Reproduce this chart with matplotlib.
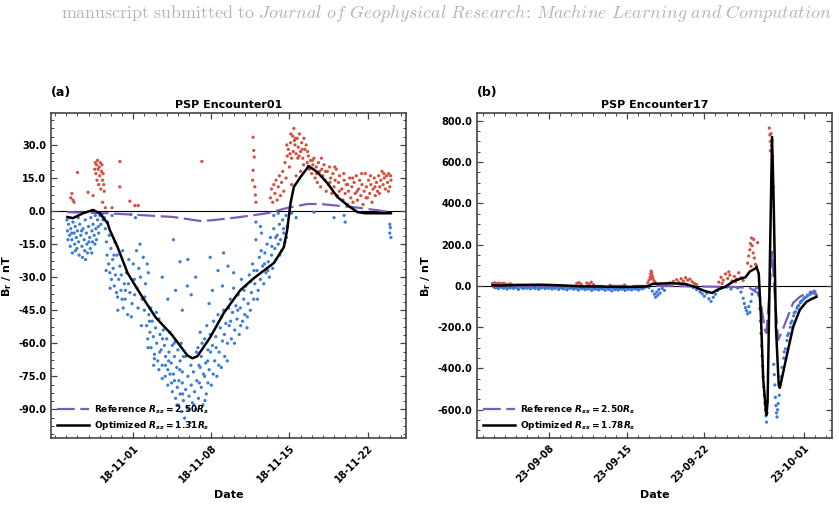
import matplotlib
matplotlib.use("Agg")
import matplotlib.pyplot as plt
import matplotlib.dates as mdates
from matplotlib.ticker import AutoMinorLocator, FormatStrFormatter, MultipleLocator
import numpy as np
import pandas as pd

plt.rcParams['font.weight'] = 'bold'
plt.rcParams['axes.labelweight'] = 'bold'
plt.rcParams['axes.titleweight'] = 'bold'
plt.rcParams['mathtext.fontset'] = 'custom'
plt.rcParams['mathtext.rm'] = 'DejaVu Sans:bold'
plt.rcParams['mathtext.it'] = 'DejaVu Sans:italic:bold'
plt.rcParams['mathtext.bf'] = 'DejaVu Sans:bold'

RED = "#d6503f"
BLUE = "#3b7dd8"
PURPLE = "#7b5bbf"

#============= Encounter 01 (days from 2018-11-01) =============
base_a = "2018-11-01"

a_blue_early = [(-5.95,-4),(-5.9,-9),(-5.85,-13),(-5.8,-6),(-5.7,-11),(-5.65,-16),(-5.6,-8),(-5.5,-13),
                (-5.45,-19),(-5.4,-5),(-5.3,-10),(-5.25,-15),(-5.2,-7),(-5.1,-12),(-5.05,-17),(-5.0,-9),
                (-4.9,-14),(-4.85,-20),(-4.8,-6),(-4.7,-11),(-4.6,-16),(-4.55,-21),(-4.5,-8),(-4.4,-13),
                (-4.35,-18),(-4.3,-4),(-4.2,-10),(-4.15,-15),(-4.1,-19),(-4.0,-7),(-3.9,-12),(-3.85,-17),
                (-3.8,-3),(-3.7,-9),(-3.65,-14),(-3.6,-6),(-3.5,-11),(-3.4,-2),(-3.35,-8),(-3.3,-13),
                (-3.2,-4),(-3.1,-10),(-3.0,-2),(-2.9,-6),(-2.8,-1.5),(-2.7,-4)]
a_red_early = [(-5.6,6),(-5.5,8),(-5.4,5),(-5.3,4),(-5.0,17.5),(-4.05,8.5),(-3.6,7),(-3.45,19),(-3.4,22),
               (-3.35,17),(-3.3,21),(-3.25,14),(-3.2,23),(-3.15,19),(-3.1,12),(-3.05,20),(-3.0,16),
               (-2.95,22),(-2.9,10),(-2.85,18),(-2.8,21),(-2.75,14),(-2.7,17),(-2.65,12),(-2.6,9),
               (-2.75,4),(-2.5,1.5),(-1.9,1.5),(-1.2,22.5),(-1.2,11),(-0.3,4.5),(0.15,2.5),(0.45,2.5),(6.15,22.5)]
a_blue_left = [(-2.6,-3),(-2.5,-8),(-2.4,-14),(-2.35,-20),(-2.3,-5),(-2.2,-24),(-2.15,-11),(-2.1,-28),
               (-2.0,-17),(-1.95,-31),(-1.9,-2),(-1.85,-22),(-1.8,-26),(-1.7,-34),(-1.65,-14),(-1.6,-29),
               (-1.5,-37),(-1.45,-20),(-1.4,-39),(-1.3,-31),(-1.2,-25),(-1.1,-36),(-1.0,-40),(-0.95,-18),
               (-0.9,-44),(-0.8,-33),(-0.7,-36),(-0.6,-28),(-0.5,-47),(-0.4,-22),(-0.3,-37),(-0.2,-1.5),
               (-0.1,-42),(0.0,-24),(0.1,-31),(0.2,-3),(0.3,-18),(0.35,-35),(0.5,-26),(0.6,-15),
               (0.65,-30),(0.8,-40),(0.9,-21),(1.0,-45),(1.1,-33),(1.25,-24),(1.35,-28),(1.45,-50)]
a_blue_mid = [(1.2,-52),(1.3,-58),(1.4,-47),(1.5,-55),(1.6,-62),(1.7,-50),(1.8,-57),(1.9,-65),(2.0,-53),
              (2.1,-60),(2.2,-68),(2.3,-49),(2.4,-56),(2.5,-63),(2.6,-70),(2.7,-54),(2.8,-61),(2.9,-66),
              (3.0,-58),(3.1,-72),(3.2,-64),(3.3,-55),(3.4,-69),(3.5,-61),(3.6,-74),(3.7,-66),(3.8,-59),
              (3.9,-71),(4.0,-63),(4.1,-77),(4.2,-68),(4.3,-60),(4.4,-73),(4.5,-66)]
a_blue_deep = [(1.9,-67),(2.3,-72),(2.6,-76),(2.9,-70),(3.1,-79),(3.3,-74),(3.5,-82),(3.7,-77),(3.8,-85),
               (3.95,-80),(4.05,-88),(4.2,-83),(4.3,-91),(4.4,-78),(4.5,-86),(4.6,-94),(4.7,-81),(4.8,-89),
               (4.9,-75),(5.0,-84),(5.1,-96),(5.2,-79),(5.3,-87),(5.4,-73),(5.5,-82),(5.6,-90),(5.7,-77),
               (5.85,-85),(6.0,-71),(6.1,-80),(6.25,-88),(6.4,-75),(6.55,-83),(6.7,-78)]
a_blue_right = [(5.8,-62),(5.9,-70),(6.0,-55),(6.1,-66),(6.3,-74),(6.4,-58),(6.5,-69),(6.6,-52),(6.7,-63),
                (6.8,-72),(6.9,-56),(7.0,-79),(7.1,-61),(7.2,-50),(7.3,-68),(7.4,-57),(7.5,-75),(7.6,-47),
                (7.7,-64),(7.8,-53),(7.9,-71),(8.0,-59),(8.1,-45),(8.2,-66),(8.3,-51),(8.45,-60),(8.55,-44)]
a_blue_upper = [(3.6,-13),(4.2,-23),(4.9,-22),(3.8,-36),(4.85,-34),(3.1,-40),(2.6,-30),(6.9,-21),
                (8.1,-19),(8.5,-25),(7.1,-36),(8.0,-34),(9.0,-28),(5.6,-30),(6.8,-42),(4.4,-45),(5.2,-38),(7.6,-27)]
a_blue_rise = [(8.6,-52),(8.7,-40),(8.8,-58),(8.9,-46),(9.0,-35),(9.1,-54),(9.2,-43),(9.3,-49),(9.4,-38),
               (9.5,-56),(9.6,-44),(9.7,-31),(9.8,-50),(9.9,-40),(10.0,-47),(10.1,-34),(10.2,-53),(10.3,-42),
               (10.4,-29),(10.5,-45),(10.6,-37),(10.7,-24),(10.8,-40),(10.9,-33),(11.0,-13),(11.1,-27),
               (11.2,-36),(11.3,-21),(11.4,-31),(11.5,-10),(11.6,-25),(11.7,-33),(11.8,-19),(11.9,-28),
               (12.0,-15),(12.1,-23),(12.2,-30),(12.3,-12),(12.4,-20),(12.5,-26),(12.6,-8),(12.7,-17),
               (12.8,-22),(12.9,-11),(13.0,-15),(13.1,-6),(13.2,-13),(13.3,-18),(13.4,-4),(13.5,-10),
               (13.6,-14),(13.7,-2),(13.8,-7),(11.0,-5),(11.4,-7),(12.6,-2),(13.0,-1)]
a_blue_fill = [(-5.73,-3),(-5.52,-10),(-5.18,-18),(-4.93,-3),(-4.63,-9),(-4.27,-22),(-3.97,-14),(-3.72,-19),
               (-3.43,-15),(-3.12,-7),(-2.43,-27),(-2.07,-35),(-1.73,-20),(-1.38,-45),(-1.07,-29),(-0.73,-40),
               (-0.43,-33),(-0.17,-48),(0.13,-38),(0.43,-44),(0.73,-52),(1.03,-39),(1.33,-62),(1.57,-44),
               (1.83,-70),(2.07,-46),(2.37,-64),(2.63,-58),(2.87,-75),(3.17,-68),(3.43,-78),(3.67,-60),
               (3.93,-88),(4.17,-72),(4.43,-83),(4.67,-66),(4.93,-90),(5.17,-70),(5.43,-88),(5.67,-64),
               (5.93,-78),(6.17,-60),(6.43,-86),(6.67,-68),(6.93,-64),(7.17,-74),(7.43,-62),(7.67,-70),
               (7.93,-48),(8.17,-56),(8.43,-68),(8.73,-50),(9.07,-60),(9.37,-45),(9.63,-52),(9.93,-36),
               (10.23,-48),(10.53,-32),(10.83,-27),(11.13,-40),(11.47,-18),(11.77,-24),(12.07,-27),
               (12.43,-16),(12.77,-12),(13.13,-20),(13.47,-8),(13.73,-12)]
a_red_late = [(10.75,33.5),(10.8,27.5),(10.85,24.5),(10.75,18.5),(10.7,14),(10.9,11),(10.95,7.3),(11.0,4),
              (12.3,6),(12.4,10),(12.5,4),(12.6,12),(12.7,8),(12.8,14),(12.9,5),(13.0,11),(13.1,16),(13.2,7),
              (13.3,13),(13.4,18),(13.5,9),(13.6,22),(13.7,15),(13.8,25),(13.9,28),(14.0,20),(14.1,31),
              (14.2,24),(14.3,34),(14.35,27),(14.4,37.5),(14.5,30),(14.6,26),(14.7,33),(14.8,29),(14.9,35),
              (15.0,27),(15.1,31),(15.2,24),(15.3,33),(15.4,28),(15.5,30),(15.6,22),(14.2,12),(14.6,16),
              (15.0,18),(14.45,32),(14.75,24),(15.15,28),(14.05,26),(15.7,25),(15.8,19),(15.9,23),(16.0,17),
              (16.1,21),(16.2,24),(16.3,15),(16.4,20),(16.5,13),(16.6,22),(16.7,18),(16.8,11),(16.9,19),
              (17.0,16),(17.1,21),(17.2,14),(17.3,9),(17.4,18),(17.5,12),(17.6,20),(17.7,15),(17.8,8),
              (17.9,17),(18.0,11),(18.1,14),(18.2,19),(18.3,7),(18.4,13),(18.5,16),(18.7,10),(18.8,5),
              (18.9,14),(19.0,8),(19.1,12),(19.2,3),(19.3,9),(19.4,15),(19.5,6),(19.6,11),(19.7,4),(19.8,13),
              (19.9,8),(20.0,16),(20.1,5),(20.2,10),(20.3,14),(20.4,7),(20.5,12),(20.6,3),(20.7,9),(20.8,17),
              (20.9,11),(21.0,6),(21.1,14),(21.2,8),(21.3,12),(21.4,4),(21.5,10),(21.6,15),(21.7,7),(21.8,13),
              (21.9,9),(22.0,16),(22.1,11),(22.2,14),(22.3,18),(22.4,12),(22.5,15),(22.6,10),(22.7,16),
              (22.8,13),(22.9,17),(23.0,11),(23.1,14)]
a_red_fill = [(13.77,30),(14.13,35),(14.53,33),(14.87,25),(15.27,21),(15.63,27),(16.07,23),(16.43,17),
              (16.87,24),(17.23,18),(17.63,13),(18.07,20),(18.47,9),(18.87,17),(19.23,12),(19.67,15),
              (20.07,9),(20.47,17),(20.87,6),(21.27,16),(21.67,11),(22.07,8),(22.47,17),(22.87,9),(23.07,16)]
a_blue_late = [(16.2,-0.5),(18.0,-3),(18.9,-2),(19.0,-5),(23.0,-6),(23.05,-7.5),(23.0,-10),(23.1,-12),(14.2,-1),(14.6,-3)]

a_ref_day = [-5.9,-2.3,0.6,3.6,6.0,7.2,9.6,12.0,13.8,15.6,16.8,18.6,20.4,22.4,23.1]
a_ref_br = [-0.5,-1,-1.8,-2.7,-4.5,-4.1,-2.7,-1,1.4,3.2,3.2,2.3,1.4,0,-0.5]
a_opt_day = [-5.9,-5.4,-4.5,-3.6,-3.0,-2.3,-2.1,-1.4,-0.5,0.6,2.0,3.5,4.85,5.3,5.75,6.9,8.1,9.6,10.8,
             12.6,13.5,13.8,14.1,14.4,15.0,15.6,15.7,16.5,17.4,18.3,19.2,20.1,20.8,23.1]
a_opt_br = [-2.7,-3.2,-1,0.5,-1,-5.5,-8.6,-16.4,-28.2,-37.3,-48.2,-56.4,-65.5,-66.8,-65.9,-57.3,-46.4,
            -35.9,-30.5,-23.6,-16.4,-8.6,3.6,11,15.5,19.5,20.5,17.7,12.7,6.4,2.7,-0.5,-1,-1]

#============= Encounter 17 (days from 2023-09-08) =============
base_b = "2023-09-08"

b_band = [(-5.0,-4),(-4.85,-9),(-4.7,-6),(-4.55,-13),(-4.4,-3),(-4.25,-8),(-4.1,-11),(-3.95,-5),(-3.8,-15),
          (-3.65,-7),(-3.5,-10),(-3.35,-4),(-3.2,-12),(-3.05,-6),(-2.9,-9),(-2.75,-17),(-2.6,-5),(-2.45,-8),
          (-2.3,-13),(-2.15,-7),(-2.0,-11),(-1.85,-4),(-1.7,-14),(-1.55,-6),(-1.4,-9),(-1.25,-12),(-1.1,-5),
          (-0.95,-16),(-0.8,-8),(-0.65,-10),(-0.5,-4),(-0.35,-13),(-0.2,-7),(-0.05,-11),(0.1,-6),(0.25,-15),
          (0.4,-9),(0.55,-12),(0.7,-5),(0.85,-17),(1.0,-8),(1.15,-11),(1.3,-14),(1.45,-6),(1.6,-19),(1.75,-9),
          (1.9,-12),(2.05,-7),(2.2,-16),(2.35,-10),(2.5,-13),(2.65,-20),(2.8,-8),(2.95,-14),(3.1,-11),
          (3.25,-18),(3.4,-9),(3.55,-15),(3.7,-12),(3.85,-22),(4.0,-10),(4.15,-16),(4.3,-13),(4.45,-19),
          (4.6,-9),(4.75,-15),(4.9,-12),(5.05,-21),(5.2,-10),(5.35,-17),(5.5,-13),(5.65,-24),(5.8,-11),
          (5.95,-18),(6.1,-14),(6.25,-20),(6.4,-9),(6.55,-16),(6.7,-12),(6.85,-22),(7.0,-10),(7.15,-17),
          (7.3,-13),(7.45,-19),(7.6,-8),(7.75,-15),(7.9,-12),(8.05,-20),(8.2,-9),(8.35,-14),(8.5,-11),(8.65,-6)]
b_red_early = [(-5.1,12),(-5.0,6),(-4.9,15),(-4.85,9),(-4.8,4),(-4.7,11),(-4.6,7),(-4.5,14),(-4.4,5),
               (-4.3,10),(-4.2,8),(-4.1,13),(-4.0,4),(-3.9,9),(-3.7,6),(-3.5,11),(-3.3,5),(-2.8,4),(-1.5,3),
               (2.5,12),(2.7,16),(2.9,8),(3.4,14),(3.6,9),(3.8,18),(4.0,6),(5.5,3),(6.8,4)]
b_red_bump = [(8.9,15),(9.0,28),(9.1,42),(9.15,58),(9.2,72),(9.25,65),(9.3,50),(9.35,38),(9.45,25),(9.55,18),(9.2,35)]
b_red_mid = [(10.6,8),(10.9,15),(11.2,22),(11.5,30),(11.7,18),(11.9,35),(12.1,24),(12.3,40),(12.5,28),
             (12.7,33),(12.9,20),(13.1,12),(13.3,6)]
b_blue_mid = [(9.0,-8),(9.3,-25),(9.5,-40),(9.6,-55),(9.7,-30),(9.8,-45),(9.9,-18),(10.0,-35),(10.2,-12),
              (10.4,-22),(13.0,-8),(13.3,-18),(13.6,-28),(13.8,-38),(14.0,-50),(14.2,-35),(14.4,-62),
              (14.6,-75),(14.8,-55),(15.0,-40),(15.2,-22),(15.4,-10),(16.0,-6),(16.4,-15)]
b_red_late = [(15.3,18),(15.5,42),(15.7,28),(15.9,58),(16.1,36),(16.3,52),(16.5,24),(16.7,46),(16.9,33),
              (17.1,64),(17.3,40),(17.5,26),(15.6,12),(16.2,68),(16.8,20)]
b_blue_tail = [(17.0,-10),(17.3,-30),(17.5,-60),(17.6,-85),(17.7,-105),(17.8,-120),(17.9,-135),(18.0,-100),
               (18.1,-128),(18.2,-75),(18.3,-40),(18.5,-20),(18.7,-10)]
b_red_pre = [(17.9,110),(18.0,145),(18.1,175),(18.15,205),(18.25,232),(18.3,195),(18.4,160),(18.5,135),
             (18.6,105),(18.7,98),(18.8,210),(18.2,95),(18.45,225)]
b_blue_plunge = [(18.9,-45),(19.0,-110),(19.05,-170),(19.1,-230),(19.15,-290),(19.2,-340),(19.25,-390),
                 (19.3,-440),(19.35,-490),(19.4,-530),(19.45,-570),(19.5,-600),(19.55,-630),(19.6,-660),(19.65,-615)]
b_red_peak = [(19.85,765),(19.9,732),(19.95,700),(20.0,738),(20.05,680),(20.1,706),(20.15,630),(20.2,480),(19.95,655)]
b_blue_trough = [(20.25,-380),(20.3,-430),(20.35,-480),(20.4,-540),(20.45,-580),(20.5,-615),(20.55,-635),
                 (20.6,-600),(20.65,-570),(20.75,-530)]
b_blue_recover = [(20.9,-440),(21.0,-395),(21.15,-350),(21.3,-305),(21.45,-265),(21.6,-230),(21.75,-200),
                  (21.9,-170),(22.05,-145),(22.2,-125),(22.35,-108),(22.5,-95),(22.65,-82),(22.8,-72),
                  (22.95,-63),(23.1,-56),(23.25,-50),(23.4,-44),(23.55,-40),(23.7,-35),(23.85,-32),(24.0,-38),
                  (24.1,-45),(21.2,-320),(21.5,-240),(21.8,-180),(22.1,-130),(22.4,-100),(22.7,-75),
                  (23.0,-58),(23.3,-45),(23.6,-30),(23.9,-25)]

b_ref_day = [-5.1,0,5,10,14,16.6,17.5,18.1,18.8,19.0,19.46,19.6,19.85,20.1,20.35,20.65,21.0,21.4,22.0,22.6,23.2,23.8,24.1]
b_ref_br = [0,0,0,0,-3,-5,-8,-10,-34,-53,-213,-228,-40,165,-50,-262,-220,-165,-82,-53,-34,-29,-27]
b_opt_day = [-5.1,-4.4,-2.6,-0.8,1.0,2.8,4.6,6.4,8.2,8.9,9.3,10.9,12.25,13.15,14.05,14.7,15.2,15.85,16.6,
             17.2,17.7,18.1,18.6,18.7,18.9,19.1,19.3,19.55,19.6,19.7,19.9,20.1,20.25,20.45,20.7,20.8,21.1,
             21.4,22.0,22.6,23.2,23.7,24.1]
b_opt_br = [3,2,5,6,3,-2,-3,-5,-4,-2,10,13,10,-5,-25,-34,-18,-5,22,34,42,70,85,92,60,-150,-450,-610,-625,
            -560,100,722,400,-200,-480,-494,-420,-344,-199,-116,-77,-62,-53]


def to_dates(base, days):
    return (pd.Timestamp(base) + pd.to_timedelta(np.asarray(days, float), unit="D")).values


def draw(ax, base, obs, ref_day, ref_br, opt_day, opt_br, rss, title, tag, xlim, ylim, ystep):
    d = np.array([p[0] for p in obs])
    v = np.array([p[1] for p in obs])
    col = np.where(v >= 0, RED, BLUE)
    ax.axhline(0, color='black', lw=0.8, zorder=1)
    ax.scatter(to_dates(base, d), v, s=5.5, c=col, lw=0, zorder=2)
    ax.plot(to_dates(base, ref_day), ref_br, color=PURPLE, lw=1.6, ls=(0, (8, 2.5)),
            label=r'Reference $R_{ss} = 2.50R_s$', zorder=3)
    ax.plot(to_dates(base, opt_day), opt_br, color='black', lw=1.8,
            label=r'Optimized $R_{ss} = %sR_s$' % rss, zorder=4)

    ax.set_xlim(to_dates(base, xlim))
    ax.set_ylim(ylim)
    ax.xaxis.set_major_locator(mdates.DayLocator(bymonthday=[1, 8, 15, 22]))
    ax.xaxis.set_minor_locator(mdates.DayLocator())
    ax.xaxis.set_major_formatter(mdates.DateFormatter('%y-%m-%d'))
    ax.yaxis.set_major_locator(MultipleLocator(ystep))
    ax.yaxis.set_minor_locator(AutoMinorLocator())
    ax.yaxis.set_major_formatter(FormatStrFormatter('%.1f'))
    ax.tick_params(which='both', direction='in', top=True, right=True, labelsize=7, color='#444444')
    ax.tick_params(which='major', length=4, width=0.9)
    ax.tick_params(which='minor', length=2, width=0.7)
    plt.setp(ax.get_xticklabels(), rotation=45, ha='right', rotation_mode='anchor')
    for s in ax.spines.values():
        s.set_color('#444444')
        s.set_linewidth(1.2)

    ax.set_title(title, fontsize=8, pad=3.5)
    ax.text(0.0, 1.062, tag, transform=ax.transAxes, fontsize=9, ha='left', va='center')
    ax.set_xlabel('Date', fontsize=8)
    ax.set_ylabel(r'B$_\mathrm{r}$ / nT', fontsize=8, labelpad=3)
    ax.legend(loc='lower left', frameon=False, fontsize=6.5, handlelength=3.5,
              borderaxespad=0.3, labelspacing=0.3, handletextpad=0.6)


fig = plt.figure(figsize=(8.39, 5.22), dpi=100)
ax1 = fig.add_axes([0.0608, 0.1609, 0.4231, 0.6226])
ax2 = fig.add_axes([0.5685, 0.1609, 0.4231, 0.6226])

obs_a = a_blue_early + a_red_early + a_blue_left + a_blue_mid + a_blue_deep + a_blue_right + \
    a_blue_upper + a_blue_rise + a_blue_fill + a_red_late + a_red_fill + a_blue_late
obs_b = b_band + b_red_early + b_red_bump + b_red_mid + b_blue_mid + b_red_late + b_blue_tail + \
    b_red_pre + b_blue_plunge + b_red_peak + b_blue_trough + b_blue_recover

draw(ax1, base_a, obs_a, a_ref_day, a_ref_br, a_opt_day, a_opt_br, "1.31",
     "PSP Encounter01", "(a)", [-7.37, 24.45], (-103, 44.5), 15)
draw(ax2, base_b, obs_b, b_ref_day, b_ref_br, b_opt_day, b_opt_br, "1.78",
     "PSP Encounter17", "(b)", [-6.5, 25.5], (-737, 838), 200)

fig.text(0.532, 0.975,
         r'$\mathrm{manuscript\ submitted\ to}\ \mathit{Journal\ of\ Geophysical\ Research\!:\,Machine\ Learning\ and\ Computation}$',
         math_fontfamily='cm', fontsize=12.9, color='#a9b6c4', ha='center', va='center')

fig.savefig('out.png', dpi=100)
